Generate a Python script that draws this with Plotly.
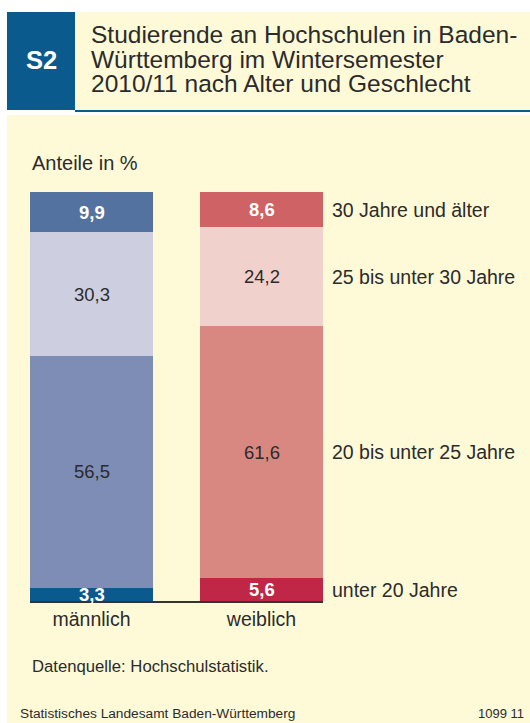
import plotly.graph_objects as go

# ---- data ----
genders = ["männlich", "weiblich"]
age_groups = ["unter 20 Jahre", "20 bis unter 25 Jahre", "25 bis unter 30 Jahre", "30 Jahre und älter"]
male_vals = [3.3, 56.5, 30.3, 9.9]
female_vals = [5.6, 61.6, 24.2, 8.6]
male_labels = ["3,3", "56,5", "30,3", "9,9"]
female_labels = ["5,6", "61,6", "24,2", "8,6"]

male_colors = ["#0B5A8E", "#7E8DB5", "#CDCFE1", "#5472A0"]
female_colors = ["#C02746", "#D98781", "#F0D1CC", "#CF6265"]
label_colors = ["white", "#2b2b2b", "#2b2b2b", "white"]
label_bold = [True, False, False, True]

W, H = 530, 723
FONT = "Liberation Sans, Arial, sans-serif"
TXT = "#2b2b2b"
CREAM = "#FEFAD8"
BLUE = "#0B5A8E"

def px(x):
    return x / W

def py(y):
    return 1 - y / H

fig = go.Figure()
bar_w = 123 / 170
for i, grp in enumerate(age_groups):
    fig.add_trace(go.Bar(
        x=genders, y=[male_vals[i], female_vals[i]],
        marker=dict(color=[male_colors[i], female_colors[i]], line=dict(width=0)),
        width=bar_w, name=grp, showlegend=False, hoverinfo="skip",
    ))

annotations = []
# value labels inside segments
for vals, labs, g in [(male_vals, male_labels, genders[0]), (female_vals, female_labels, genders[1])]:
    cum = 0
    for i, v in enumerate(vals):
        mid = cum + v / 2
        cum += v
        t = f"<b>{labs[i]}</b>" if label_bold[i] else labs[i]
        annotations.append(dict(x=g, y=mid, xref="x", yref="y", text=t, showarrow=False,
                                font=dict(family=FONT, size=18.5, color=label_colors[i]),
                                xanchor="center", yanchor="middle"))
# right-side category labels at female segment centers
cum = 0
for i, v in enumerate(female_vals):
    mid = cum + v / 2
    cum += v
    annotations.append(dict(x=px(330), y=mid, xref="paper", yref="y", text=age_groups[i],
                            showarrow=False, xanchor="left", yanchor="middle",
                            font=dict(family=FONT, size=19.5, color=TXT)))

# title lines
title_lines = ["Studierende an Hochschulen in Baden-", "Württemberg im Wintersemester",
               "2010/11 nach Alter und Geschlecht"]
for k, line in enumerate(title_lines):
    annotations.append(dict(x=px(89), y=py(34.5 + 24.5 * k), xref="paper", yref="paper", text=line,
                            showarrow=False, xanchor="left", yanchor="middle",
                            font=dict(family=FONT, size=24.5, color=TXT)))
annotations.append(dict(x=px(41.5), y=py(60), xref="paper", yref="paper", text="<b>S2</b>",
                        showarrow=False, xanchor="center", yanchor="middle",
                        font=dict(family=FONT, size=25.5, color="white")))
annotations.append(dict(x=px(30), y=py(163), xref="paper", yref="paper", text="Anteile in %",
                        showarrow=False, xanchor="left", yanchor="middle",
                        font=dict(family=FONT, size=20, color=TXT)))
annotations.append(dict(x=px(30), y=py(666), xref="paper", yref="paper",
                        text="Datenquelle: Hochschulstatistik.",
                        showarrow=False, xanchor="left", yanchor="middle",
                        font=dict(family=FONT, size=16.7, color=TXT)))
annotations.append(dict(x=px(18), y=py(713.5), xref="paper", yref="paper",
                        text="Statistisches Landesamt Baden-Württemberg",
                        showarrow=False, xanchor="left", yanchor="middle",
                        font=dict(family=FONT, size=13.7, color=TXT)))
annotations.append(dict(x=px(526), y=py(713.5), xref="paper", yref="paper", text="1099 11",
                        showarrow=False, xanchor="right", yanchor="middle",
                        font=dict(family=FONT, size=13, color=TXT)))

shapes = [
    dict(type="rect", xref="paper", yref="paper", x0=px(7), x1=px(75), y0=py(110), y1=py(12),
         fillcolor=BLUE, line=dict(width=0), layer="below"),
    dict(type="rect", xref="paper", yref="paper", x0=px(75), x1=1, y0=py(110), y1=py(12),
         fillcolor=CREAM, line=dict(width=0), layer="below"),
    dict(type="rect", xref="paper", yref="paper", x0=px(75), x1=1, y0=py(112), y1=py(110),
         fillcolor=BLUE, line=dict(width=0), layer="below"),
    dict(type="rect", xref="paper", yref="paper", x0=px(7), x1=1, y0=0, y1=py(115),
         fillcolor=CREAM, line=dict(width=0), layer="below"),
]

fig.update_layout(
    width=W, height=H, barmode="stack", bargap=0,
    margin=dict(l=0, r=0, t=0, b=0),
    paper_bgcolor="white", plot_bgcolor="rgba(0,0,0,0)",
    annotations=annotations, shapes=shapes,
    xaxis=dict(domain=[px(30), px(323)], range=[-bar_w / 2, 1 + bar_w / 2], type="category",
               showline=True, linecolor="#333333", linewidth=2, showgrid=False, zeroline=False,
               ticks="", tickfont=dict(family=FONT, size=19.5, color=TXT), fixedrange=True),
    yaxis=dict(domain=[py(601), py(192)], range=[0, 100], visible=False, fixedrange=True),
)

fig.write_html(
    "out.html",
    config={"displayModeBar": False},
    post_script="document.body.style.margin='0';document.body.style.overflow='hidden';",
)
